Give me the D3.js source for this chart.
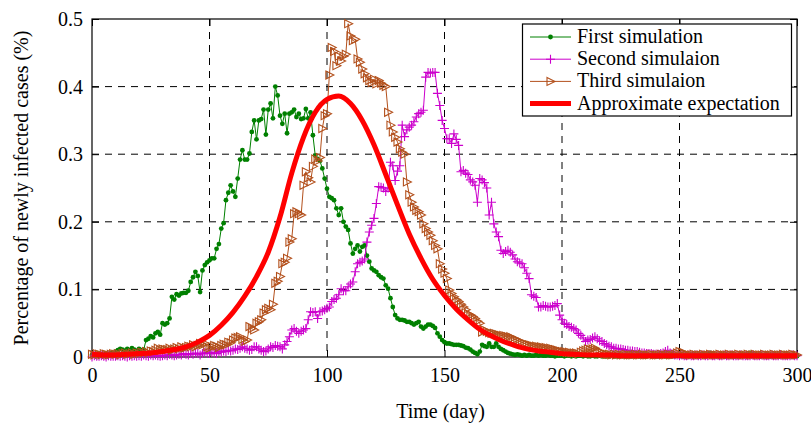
<!DOCTYPE html>
<html>
<head>
<meta charset="utf-8">
<script src="https://cdn.jsdelivr.net/npm/d3@7"></script>
<style>
body{margin:0;background:#fff;}
</style>
</head>
<body>
<div id="chart"></div>
<script>
'use strict'
// day index for the three simulations
let days = d3.range(0, 301);

let firstSim = [
  .003,.004,.003,.005,.004,.003,.005,.004,.006,.005,
  .008,.010,.012,.011,.009,.012,.010,.013,.011,.009,
  .012,.010,.011,.025,.027,.031,.029,.035,.037,.033,
  .050,.048,.050,.057,.089,.085,.093,.091,.094,.095,
  .095,.098,.111,.118,.126,.120,.096,.128,.136,.140,
  .143,.146,.146,.160,.167,.190,.198,.232,.243,.254,
  .245,.237,.264,.292,.306,.292,.292,.301,.333,.350,
  .322,.350,.352,.366,.329,.366,.375,.353,.400,.387,
  .357,.345,.360,.331,.360,.362,.366,.355,.360,.352,
  .353,.367,.353,.362,.328,.298,.293,.290,.279,.264,
  .249,.237,.235,.232,.220,.210,.220,.200,.193,.188,
  .168,.153,.160,.165,.156,.163,.165,.150,.141,.131,
  .128,.126,.121,.118,.116,.106,.101,.087,.074,.062,
  .057,.055,.055,.054,.052,.052,.050,.048,.050,.052,
  .045,.042,.045,.048,.048,.046,.043,.035,.030,.025,
  .022,.020,.020,.019,.018,.018,.018,.017,.016,.014,
  .013,.011,.008,.006,.004,.008,.018,.016,.015,.020,
  .015,.015,.020,.015,.012,.010,.008,.006,.005,.004,
  .003,.004,.003,.002,.003,.002,.003,.002,.002,.003,
  .002,.003,.002,.002,.003,.002,.002,.001,.002,.002,
  .002,.001,.002,.002,.001,.002,.001,.002,.002,.001,
  .002,.001,.001,.002,.001,.001,.002,.001,.001,.001,
  .001,.002,.001,.001,.001,.002,.001,.001,.001,.001,
  .001,.001,.002,.001,.001,.001,.001,.002,.001,.001,
  .001,.001,.001,.002,.001,.001,.001,.001,.001,.002,
  .001,.001,.001,.002,.001,.002,.003,.002,.003,.003,
  .004,.004,.005,.006,.005,.002,.001,.001,.002,.001,
  .001,.001,.002,.001,.001,.002,.002,.003,.003,.004,
  .006,.004,.003,.002,.001,.001,.002,.001,.001,.001,
  .001,.002,.001,.001,.001,.001,.002,.001,.001,.001,.001
];

let secondSim = [
  .000,.002,.001,.001,.002,.001,.000,.002,.001,.001,
  .001,.002,.001,.002,.001,.000,.002,.001,.002,.001,
  .002,.001,.003,.002,.001,.003,.002,.003,.002,.001,
  .002,.003,.002,.004,.003,.002,.003,.004,.003,.005,
  .004,.003,.005,.004,.006,.005,.003,.005,.007,.006,
  .005,.007,.006,.005,.008,.007,.009,.008,.010,.009,
  .010,.012,.011,.013,.015,.013,.012,.010,.011,.015,
  .015,.012,.010,.008,.009,.012,.015,.014,.017,.016,
  .015,.012,.018,.023,.030,.040,.042,.038,.035,.038,
  .040,.042,.055,.067,.066,.067,.057,.067,.068,.070,
  .072,.074,.082,.085,.087,.092,.101,.098,.098,.104,
  .108,.111,.126,.138,.140,.142,.145,.170,.185,.195,
  .205,.227,.252,.251,.250,.245,.250,.288,.283,.261,
  .275,.283,.343,.326,.336,.340,.343,.348,.355,.360,
  .362,.365,.414,.421,.420,.421,.421,.390,.372,.350,
  .338,.323,.323,.316,.330,.322,.313,.274,.276,.272,
  .270,.262,.259,.254,.229,.264,.262,.258,.250,.210,
  .229,.197,.185,.178,.158,.153,.156,.158,.155,.151,
  .145,.141,.139,.138,.132,.124,.116,.092,.090,.088,
  .074,.074,.076,.075,.074,.074,.075,.076,.079,.062,
  .055,.050,.048,.045,.044,.042,.040,.035,.032,.028,
  .023,.025,.026,.028,.030,.027,.024,.023,.020,.018,
  .016,.015,.013,.013,.012,.012,.011,.010,.010,.009,
  .009,.008,.008,.007,.006,.006,.005,.005,.005,.004,
  .004,.004,.005,.006,.008,.010,.006,.004,.003,.003,
  .002,.003,.002,.002,.003,.002,.002,.003,.002,.002,
  .003,.002,.002,.003,.002,.002,.003,.002,.002,.003,
  .002,.002,.003,.002,.002,.002,.003,.002,.002,.002,
  .002,.003,.002,.002,.002,.003,.002,.002,.002,.003,
  .002,.002,.002,.003,.002,.002,.002,.002,.003,.002,.002
];

let thirdSim = [
  .004,.003,.005,.004,.003,.005,.004,.003,.004,.005,
  .004,.005,.003,.005,.006,.004,.005,.006,.004,.006,
  .005,.007,.006,.008,.006,.009,.008,.010,.013,.010,
  .012,.011,.011,.013,.010,.012,.014,.012,.015,.013,
  .014,.016,.015,.018,.015,.017,.020,.018,.020,.015,
  .013,.015,.017,.016,.014,.017,.019,.018,.022,.021,
  .025,.028,.029,.030,.026,.023,.025,.045,.042,.040,
  .050,.052,.055,.065,.070,.072,.070,.078,.109,.112,
  .119,.138,.140,.146,.170,.175,.212,.215,.212,.210,
  .254,.274,.265,.259,.282,.293,.290,.295,.338,.357,
  .360,.417,.458,.452,.431,.445,.438,.445,.448,.493,
  .475,.468,.470,.441,.436,.426,.419,.413,.409,.406,
  .411,.404,.409,.405,.402,.400,.362,.343,.333,.325,
  .318,.308,.303,.300,.259,.240,.229,.222,.217,.215,
  .210,.197,.190,.185,.180,.172,.165,.160,.138,.130,
  .124,.116,.099,.094,.089,.085,.082,.078,.074,.070,
  .064,.062,.060,.057,.053,.050,.037,.040,.038,.036,
  .035,.035,.034,.033,.032,.032,.031,.030,.030,.028,
  .026,.025,.023,.022,.020,.019,.018,.017,.016,.016,
  .015,.015,.014,.014,.013,.013,.012,.011,.010,.009,
  .008,.008,.007,.007,.006,.006,.006,.005,.007,.009,
  .010,.012,.011,.012,.013,.010,.008,.006,.005,.004,
  .004,.003,.004,.003,.004,.003,.003,.004,.003,.003,
  .003,.004,.003,.003,.004,.003,.003,.003,.004,.003,
  .003,.003,.004,.003,.003,.004,.003,.003,.004,.006,
  .008,.007,.006,.004,.003,.003,.004,.003,.003,.003,
  .004,.003,.003,.004,.003,.003,.003,.004,.003,.003,
  .003,.004,.003,.003,.003,.004,.003,.003,.003,.004,
  .003,.003,.004,.003,.003,.003,.004,.003,.003,.003,
  .004,.003,.003,.003,.004,.003,.003,.003,.004,.003,.003
];

// expectation curve, read every 5 days
let expDays = [0,5,10,15,20,25,30,35,40,45,50,55,60,65,70,75,80,85,90,95,
  100,105,110,115,120,125,130,135,140,145,150,155,160,165,170,175,180,185,190,195,
  200,205,210,215,220,225,230,235,240,245,250,255,260,265,270,275,280,285,290,295,300];
let expValues = [.004,.003,.003,.004,.005,.006,.008,.011,.015,.022,
  .032,.047,.066,.090,.119,.155,.207,.272,.325,.362,
  .381,.386,.375,.350,.314,.270,.225,.182,.146,.115,
  .091,.071,.055,.041,.031,.023,.017,.012,.009,.007,
  .005,.004,.003,.003,.003,.002,.002,.002,.002,.002,
  .002,.002,.002,.002,.002,.002,.002,.002,.002,.002,.002];

let xTicks = [0, 50, 100, 150, 200, 250, 300];
let yTicks = [0, 0.1, 0.2, 0.3, 0.4, 0.5];
let yTickLabels = ['0', '0.1', '0.2', '0.3', '0.4', '0.5'];
let legendNames = ['First simulation', 'Second simulaion', 'Third simulaion', 'Approximate expectation'];

let margin = {top: 19, right: 14, bottom: 68, left: 92}
  , width = 811 - margin.left - margin.right
  , height = 425 - margin.top - margin.bottom;
let font = '"Liberation Serif", "Times New Roman", serif';

let svg = d3.select('#chart')
  .append('svg')
  .attr('width', 811)
  .attr('height', 425)
  .style('background', '#fff');

let x = d3.scaleLinear().domain([0, 300]).range([margin.left, margin.left + width]);
let y = d3.scaleLinear().domain([0, 0.5]).range([margin.top + height, margin.top]);

// dashed grid
svg.append('g').selectAll('line')
  .data(xTicks.slice(1, -1))
  .enter().append('line')
  .attr('x1', d => x(d)).attr('x2', d => x(d))
  .attr('y1', y(0.5)).attr('y2', y(0))
  .attr('stroke', '#000')
  .attr('stroke-dasharray', '7,6');
svg.append('g').selectAll('line')
  .data(yTicks.slice(1, -1))
  .enter().append('line')
  .attr('x1', x(0)).attr('x2', x(300))
  .attr('y1', d => y(d)).attr('y2', d => y(d))
  .attr('stroke', '#000')
  .attr('stroke-dasharray', '7,6');

// axes, ticks pointing inwards like matlab
let xAxis = d3.axisBottom(x).tickValues(xTicks).tickSize(-7).tickSizeOuter(0).tickPadding(11);
let yAxis = d3.axisLeft(y).tickValues(yTicks).tickSize(-7).tickSizeOuter(0).tickPadding(9)
  .tickFormat((d, i) => yTickLabels[i]);
let gx = svg.append('g').attr('transform', 'translate(0,' + y(0) + ')').call(xAxis);
let gy = svg.append('g').attr('transform', 'translate(' + x(0) + ',0)').call(yAxis);
svg.append('g').attr('transform', 'translate(0,' + y(0.5) + ')')
  .call(d3.axisTop(x).tickValues(xTicks).tickSize(-7).tickSizeOuter(0).tickFormat(''));
svg.append('g').attr('transform', 'translate(' + x(300) + ',0)')
  .call(d3.axisRight(y).tickValues(yTicks).tickSize(-7).tickSizeOuter(0).tickFormat(''));
svg.selectAll('.domain').remove();
[gx, gy].forEach(g => g.selectAll('text')
  .attr('font-family', font).attr('font-size', 20).attr('fill', '#000'));

svg.append('rect')
  .attr('x', x(0)).attr('y', y(0.5))
  .attr('width', x(300) - x(0)).attr('height', y(0) - y(0.5))
  .attr('fill', 'none').attr('stroke', '#000').attr('stroke-width', 1.2);

// markers
let markers = {
  dot: null,
  plus: 'M-4.5,0H4.5M0,-4.5V4.5',
  tri: 'M-3.5,-4L4.5,0L-3.5,4Z'
};
let series = [
  {values: firstSim, color: '#008000', marker: 'dot'},
  {values: secondSim, color: '#cc00cc', marker: 'plus'},
  {values: thirdSim, color: '#b3501c', marker: 'tri'}
];

let line = d3.line().x((d, i) => x(days[i])).y(d => y(d));

function drawMarker(sel, s) {
  if (s.marker == 'dot') {
    sel.append('circle').attr('r', 2.4).attr('fill', s.color);
  } else {
    sel.append('path').attr('d', markers[s.marker])
      .attr('fill', 'none').attr('stroke', s.color).attr('stroke-width', 1.1);
  }
}

series.forEach(function(s) {
  let g = svg.append('g');
  g.append('path')
    .attr('d', line(s.values))
    .attr('fill', 'none')
    .attr('stroke', s.color)
    .attr('stroke-width', 1);
  g.selectAll('g.m')
    .data(s.values)
    .enter().append('g')
    .attr('class', 'm')
    .attr('transform', (d, i) => 'translate(' + x(days[i]) + ',' + y(d) + ')')
    .each(function() { drawMarker(d3.select(this), s); });
});

let expLine = d3.line().curve(d3.curveMonotoneX).x((d, i) => x(expDays[i])).y(d => y(d));
svg.append('path')
  .attr('d', expLine(expValues))
  .attr('fill', 'none')
  .attr('stroke', '#ff0000')
  .attr('stroke-width', 5)
  .attr('stroke-linejoin', 'round');

// legend
let legend = svg.append('g');
legend.append('rect')
  .attr('x', 522.5).attr('y', 24)
  .attr('width', 269).attr('height', 92)
  .attr('fill', '#fff').attr('stroke', '#000').attr('stroke-width', 1.2);
let legendStyles = series.concat([{color: '#ff0000', marker: null}]);
legendNames.forEach(function(name, i) {
  let ly = 37 + i * 22.2;
  let s = legendStyles[i];
  legend.append('line')
    .attr('x1', 530).attr('x2', 571)
    .attr('y1', ly).attr('y2', ly)
    .attr('stroke', s.color)
    .attr('stroke-width', s.marker ? 1 : 5);
  if (s.marker) drawMarker(legend.append('g').attr('transform', 'translate(550.5,' + ly + ')'), s);
  legend.append('text')
    .attr('x', 577).attr('y', ly + 6)
    .attr('font-family', font).attr('font-size', 20)
    .text(name);
});

// axis titles
svg.append('text')
  .attr('x', (x(0) + x(300)) / 2 - 4).attr('y', 418)
  .attr('text-anchor', 'middle')
  .attr('font-family', font).attr('font-size', 20)
  .text('Time (day)');
svg.append('text')
  .attr('transform', 'translate(28,' + (y(0) + y(0.5)) / 2 + ') rotate(-90)')
  .attr('text-anchor', 'middle')
  .attr('font-family', font).attr('font-size', 20)
  .text('Percentage of newly infected cases (%)');
</script>
</body>
</html>
